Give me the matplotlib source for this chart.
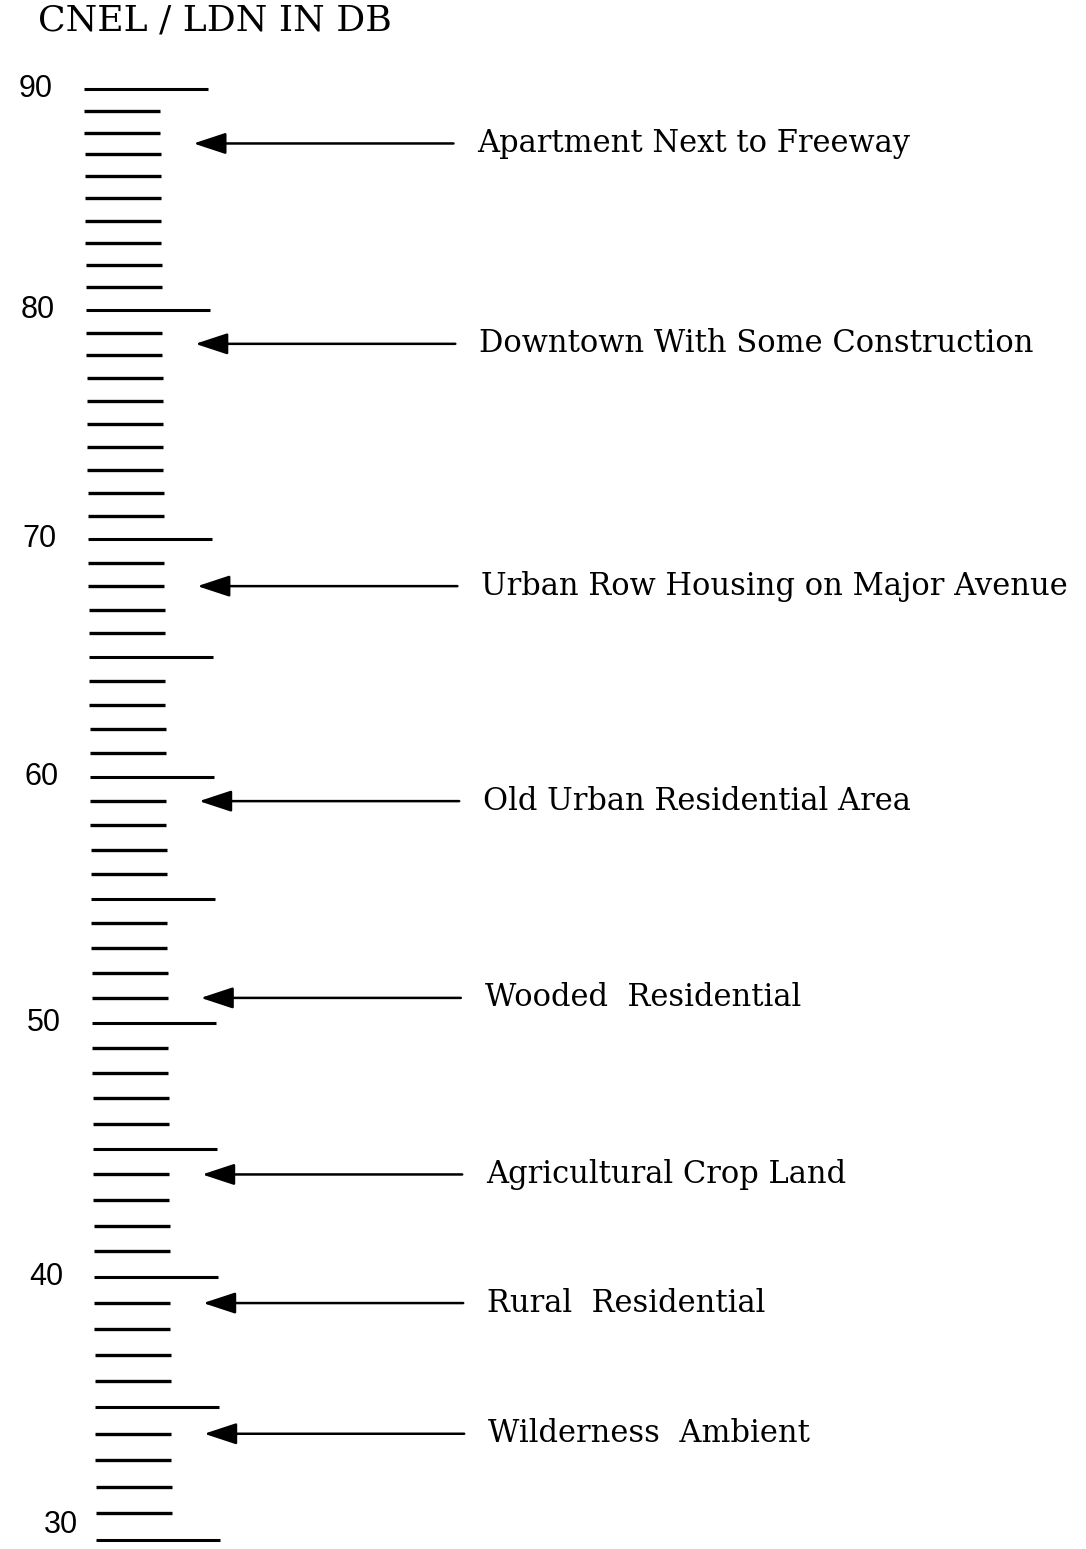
import numpy as np
import matplotlib
matplotlib.use("Agg")
import matplotlib.pyplot as plt

# ---- data ----
tick_values = list(range(30, 91))
major_values = [90, 80, 70, 65, 60, 55, 50, 45, 40, 35, 30]
label_values = [90, 80, 70, 60, 50, 40, 30]
source_names = [
    "Apartment Next to Freeway",
    "Downtown With Some Construction",
    "Urban Row Housing on Major Avenue",
    "Old Urban Residential Area",
    "Wooded  Residential",
    "Agricultural Crop Land",
    "Rural  Residential",
    "Wilderness  Ambient",
]
source_levels = [87.5, 78.5, 68, 59, 51, 44, 39, 34]
title_text = "CNEL / LDN IN DB"

# ---- scale calibration (scanned page is slightly stretched toward bottom) ----
W, H = 1086, 1549
P_TOP = 89.0          # pixel row of 90 dB
A_LIN, B_QUAD = 21.68, 0.04167

def fwd(d):
    v = 90.0 - np.asarray(d, dtype=float)
    return -(A_LIN * v + B_QUAD * v * v)

def inv(f):
    f = np.asarray(f, dtype=float)
    disc = np.maximum(A_LIN ** 2 - 4 * B_QUAD * f, 0.0)
    v = (-A_LIN + np.sqrt(disc)) / (2 * B_QUAD)
    return 90.0 - v

def pix_to_db(p):
    return inv(-(p - P_TOP))

SKEW = 0.2            # px drift per dB (scan tilt)
def xleft(d):
    return 84 + SKEW * (90 - np.asarray(d, dtype=float))

fig = plt.figure(figsize=(W / 100, H / 100), dpi=100)
ax = fig.add_axes([0, 0, 1, 1])
ax.set_yscale("function", functions=(fwd, inv))
ax.set_xlim(0, W)
ax.set_ylim(float(pix_to_db(H)), float(pix_to_db(0)))
ax.axis("off")

minor = [v for v in tick_values if v not in major_values]
ax.hlines(minor, xleft(minor), xleft(minor) + 76, color="black", lw=2.4)
ax.hlines(major_values, xleft(major_values), xleft(major_values) + 124,
          color="black", lw=2.2)

lowest = min(label_values)
for v in label_values:
    if v == lowest:
        ax.text(xleft(v) - 18, v, str(v), ha="right", va="bottom",
                fontsize=22, family="Liberation Sans", color="black")
    else:
        ax.text(xleft(v) - 31, v, str(v), ha="right", va="center",
                fontsize=22, family="Liberation Sans", color="black")

for name, lvl in zip(source_names, source_levels):
    tip = xleft(lvl) + 109
    tail = tip + 260
    ax.annotate("", xy=(tip, lvl), xytext=(tail, lvl),
                arrowprops=dict(arrowstyle="-|>,head_length=1.0,head_width=0.33",
                                mutation_scale=20, lw=1.8, color="black",
                                shrinkA=0, shrinkB=0))
    ax.text(tail + 24, lvl, name, ha="left", va="center",
            fontsize=22, family="DejaVu Serif", color="black")

fig.text(38 / W, 1 - 31 / H, title_text, ha="left", va="baseline",
         fontsize=26, family="DejaVu Serif", color="black")

fig.savefig("out.png", dpi=100, facecolor="white")
